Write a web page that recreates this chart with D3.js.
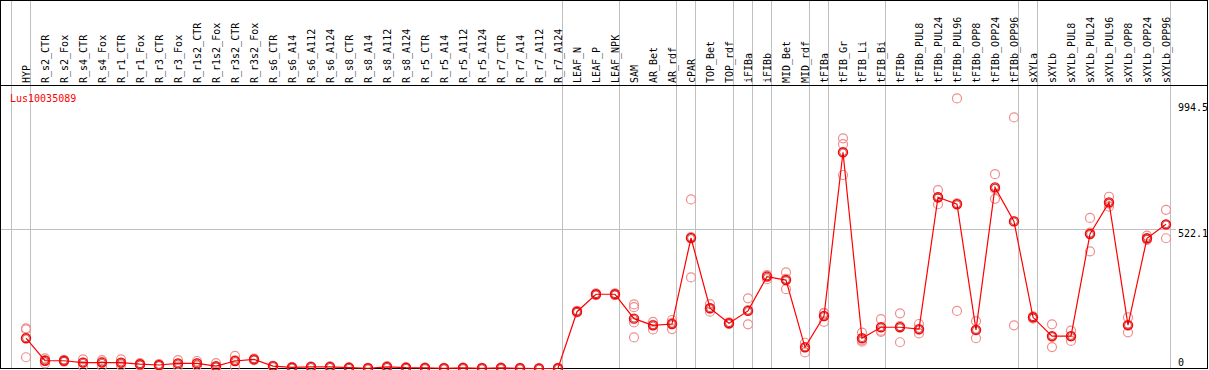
<!DOCTYPE html>
<html>
<head>
<meta charset="utf-8">
<script src="https://cdn.jsdelivr.net/npm/d3@7"></script>
<style>
  body { margin: 0; background: #fff; }
  svg { display: block; }
</style>
</head>
<body>
<div id="chart"></div>
<script>
const width = 1209, height = 370;

const gene_name = 'Lus10035089';

const categories = [
    'HYP',
    'R_s2_CTR', 'R_s2_Fox', 'R_s4_CTR', 'R_s4_Fox', 'R_r1_CTR', 'R_r1_Fox', 'R_r3_CTR', 'R_r3_Fox',
    'R_r1s2_CTR', 'R_r1s2_Fox', 'R_r3s2_CTR', 'R_r3s2_Fox',
    'R_s6_CTR', 'R_s6_A14', 'R_s6_A112', 'R_s6_A124', 'R_s8_CTR', 'R_s8_A14', 'R_s8_A112', 'R_s8_A124',
    'R_r5_CTR', 'R_r5_A14', 'R_r5_A112', 'R_r5_A124', 'R_r7_CTR', 'R_r7_A14', 'R_r7_A112', 'R_r7_A124',
    'LEAF_N', 'LEAF_P', 'LEAF_NPK',
    'SAM', 'AR_Bet', 'AR_rdf',
    'cPAR',
    'TOP_Bet', 'TOP_rdf',
    'iFIBa',
    'iFIBb',
    'MID_Bet', 'MID_rdf',
    'tFIBa',
    'tFIB_Gr', 'tFIB_Li', 'tFIB_Bi',
    'tFIBb', 'tFIBb_PUL8', 'tFIBb_PUL24', 'tFIBb_PUL96', 'tFIBb_OPP8', 'tFIBb_OPP24', 'tFIBb_OPP96',
    'sXYLa',
    'sXYLb', 'sXYLb_PUL8', 'sXYLb_PUL24', 'sXYLb_PUL96', 'sXYLb_OPP8', 'sXYLb_OPP24', 'sXYLb_OPP96'
];

// mean expression per sample
const mean_values = [
    113,
    29, 29, 22, 22, 22, 16, 13, 19,
    19, 9, 28, 34,
    9, 4, 6, 6, 3, 1, 6, 3,
    2, 1, 2, 1, 2, 1, 0, 1,
    212, 277, 277,
    186, 161, 166,
    487,
    225, 169,
    215,
    343,
    330, 79,
    196,
    807, 113, 154,
    154, 147, 639, 613, 144, 676, 549,
    191,
    121, 121, 502, 620, 162, 486, 538
];

// individual replicates per sample
const replicate_values = [
    [150, 146, 42],
    [38, 31, 19], [32, 29, 26], [34, 22, 9], [31, 25, 9], [34, 20, 12], [20, 16, 12], [16, 12, 10], [31, 17, 8],
    [28, 19, 11], [20, 5, 3], [47, 30, 7], [37, 34, 31],
    [10, 9, 8], [5, 4, 3], [7, 6, 5], [8, 6, 4], [4, 3, 2], [2, 1, 0], [9, 6, 3], [4, 3, 2],
    [3, 2, 1], [2, 1, 0], [3, 2, 1], [2, 1, 0], [3, 2, 1], [2, 1, 0], [1, 0, 0], [2, 1, 0],
    [215, 212, 209], [280, 277, 274], [280, 277, 274],
    [239, 229, 172, 116], [174, 163, 146], [181, 170, 147],
    [631, 490, 340],
    [240, 224, 212], [172, 169, 166],
    [262, 218, 165],
    [349, 346, 333],
    [359, 335, 296], [96, 80, 60],
    [208, 206, 174],
    [859, 837, 722], [134, 105, 100], [184, 141, 137],
    [206, 158, 98], [166, 144, 131], [666, 638, 613], [1008, 616, 215], [177, 142, 113], [725, 670, 633], [937, 549, 161],
    [195, 191, 186],
    [165, 118, 80], [141, 120, 103], [562, 507, 437], [641, 615, 604], [191, 160, 135], [496, 482, 480], [592, 536, 486]
];

// a grey rule is drawn after each of these samples
const group_ends = ['HYP', 'R_r7_A124', 'LEAF_NPK', 'AR_rdf', 'cPAR', 'TOP_rdf', 'iFIBa', 'iFIBb',
    'MID_rdf', 'tFIBa', 'tFIB_Bi', 'tFIBb_OPP96', 'sXYLa', 'sXYLb_OPP96'];

const y_ticks = [0, 522.1, 994.5];

const font = "'DejaVu Sans Mono', monospace";

const svg = d3.select('#chart')
    .append('svg')
    .attr('width', width)
    .attr('height', height);

const x = d3.scaleBand()
    .domain(categories)
    .range([11, 11 + 19 * categories.length])
    .padding(0);

const y = d3.scaleLinear()
    .domain([0, 994.5])
    .range([368.5, 102]);

const px = c => x(c) + 15;

// grid line at middle tick
svg.append('line')
    .attr('x1', 0).attr('x2', 1176)
    .attr('y1', Math.round(y(522.1)) + 0.5)
    .attr('y2', Math.round(y(522.1)) + 0.5)
    .attr('stroke', '#c0c0c0')
    .attr('stroke-width', 1);

// vertical separators
const sep_x = [x(categories[0])].concat(group_ends.map(c => x(c) + x.bandwidth()));
svg.append('g')
    .selectAll('line')
    .data(sep_x)
    .join('line')
    .attr('x1', d => Math.round(d) + 0.5)
    .attr('x2', d => Math.round(d) + 0.5)
    .attr('y1', 0)
    .attr('y2', 368)
    .attr('stroke', '#c0c0c0')
    .attr('stroke-width', 1);

// frame and header rule
svg.append('rect')
    .attr('x', 0.5).attr('y', 0.5)
    .attr('width', 1207).attr('height', 368)
    .attr('fill', 'none')
    .attr('stroke', '#000')
    .attr('stroke-width', 1);

svg.append('line')
    .attr('x1', 0).attr('x2', 1208)
    .attr('y1', 85.5).attr('y2', 85.5)
    .attr('stroke', '#000')
    .attr('stroke-width', 1);

// sample labels
svg.append('g')
    .selectAll('text')
    .data(categories)
    .join('text')
    .attr('transform', d => `translate(${x(d) + 18.5},83) rotate(-90)`)
    .attr('font-family', font)
    .attr('font-size', '10px')
    .attr('fill', '#000')
    .text(d => d);

// right axis labels
svg.append('g')
    .selectAll('text')
    .data(y_ticks)
    .join('text')
    .attr('x', 1178)
    .attr('y', d => Math.min(y(d) + 8.5, 366))
    .attr('font-family', font)
    .attr('font-size', '10px')
    .attr('fill', '#000')
    .text(d => d);

// gene name
svg.append('text')
    .attr('x', 10)
    .attr('y', 101.5)
    .attr('font-family', font)
    .attr('font-size', '10px')
    .attr('fill', '#ff0000')
    .text(gene_name);

// replicates
const reps = [];
categories.forEach((c, i) => {
    replicate_values[i].forEach(v => reps.push({ c: c, v: v }));
});

svg.append('g')
    .selectAll('circle')
    .data(reps)
    .join('circle')
    .attr('cx', d => px(d.c))
    .attr('cy', d => y(d.v))
    .attr('r', 4.5)
    .attr('fill', 'none')
    .attr('stroke', '#ef8e8e')
    .attr('stroke-width', 1.2);

// mean line
const means = categories.map((c, i) => ({ c: c, v: mean_values[i] }));

svg.append('path')
    .datum(means)
    .attr('fill', 'none')
    .attr('stroke', '#ff0000')
    .attr('stroke-width', 1.2)
    .attr('d', d3.line().x(d => px(d.c)).y(d => y(d.v)));

const mean_g = svg.append('g');
mean_g.selectAll('circle.in')
    .data(means)
    .join('circle')
    .attr('class', 'in')
    .attr('cx', d => px(d.c))
    .attr('cy', d => y(d.v))
    .attr('r', 3.4)
    .attr('fill', 'none')
    .attr('stroke', '#700000')
    .attr('stroke-width', 0.6);
mean_g.selectAll('circle.out')
    .data(means)
    .join('circle')
    .attr('class', 'out')
    .attr('cx', d => px(d.c))
    .attr('cy', d => y(d.v))
    .attr('r', 4.5)
    .attr('fill', 'none')
    .attr('stroke', '#ff0000')
    .attr('stroke-width', 1.4);
</script>
</body>
</html>
